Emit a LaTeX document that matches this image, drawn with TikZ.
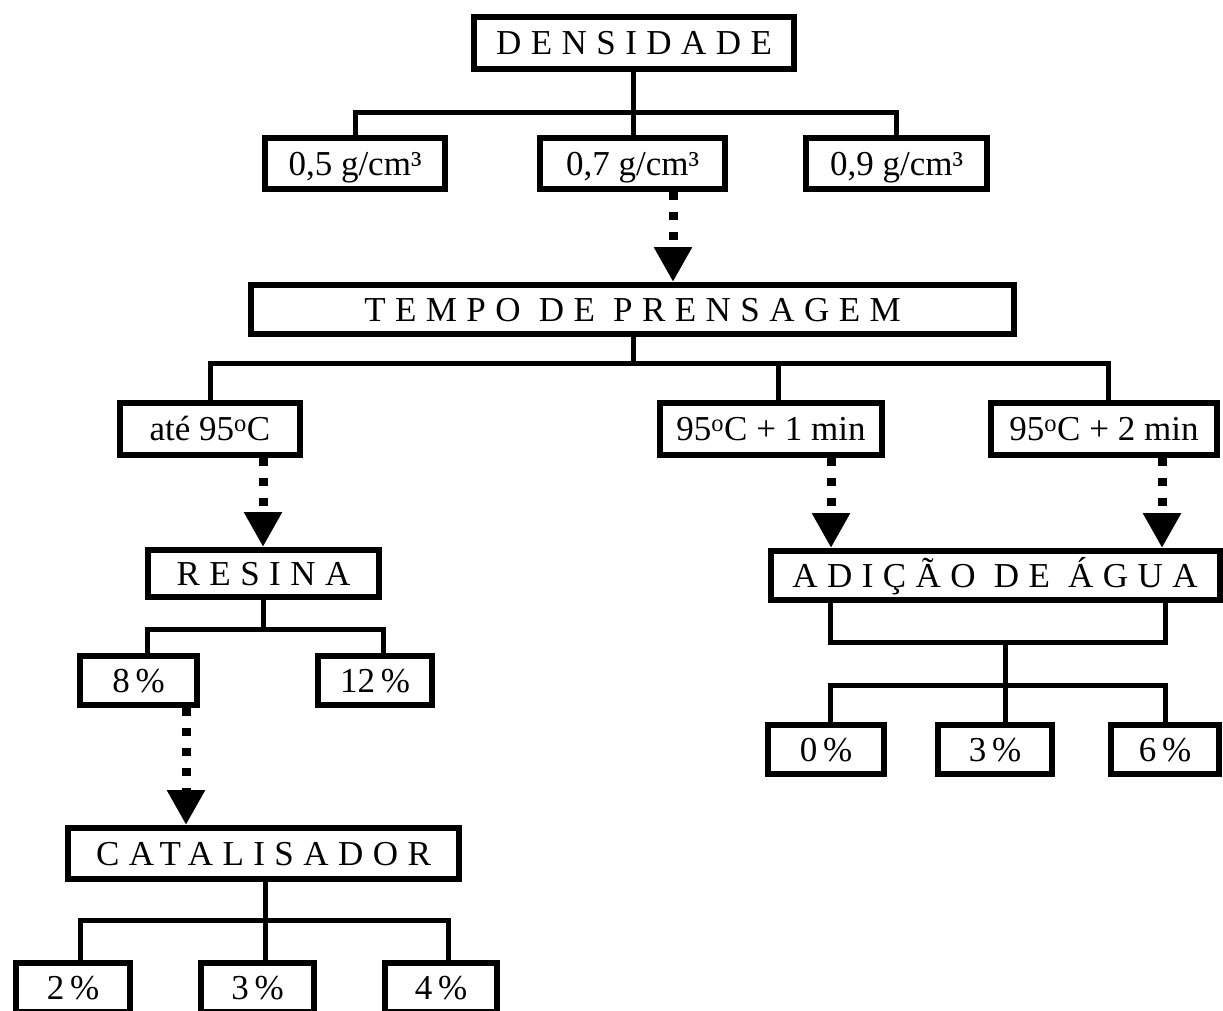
\documentclass[tikz,border=0pt]{standalone}
\usepackage{fontspec}
\setmainfont{Liberation Serif}
\newfontfamily\spaced[LetterSpace=27]{Liberation Serif}
\usetikzlibrary{arrows.meta}
\begin{document}
\begin{tikzpicture}[x=1pt,y=-1pt,
  box/.style={draw,line width=6pt,fill=white,inner sep=0pt,rectangle,
    text height=23.5pt,text depth=0pt,font=\fontsize{35}{40}\selectfont},
  spbox/.style={box,font=\fontsize{35}{40}\selectfont\spaced},
  conn/.style={line width=5pt},
  darr/.style={line width=9pt,dash pattern=on 8pt off 12pt,
    -{Triangle[width=36pt,length=35pt]}}]
\useasboundingbox (0,0) rectangle (1223,1010);
\clip (0,0) rectangle (1223,1010);

% nodes
\node[spbox,minimum width=320pt,minimum height=52pt] (dens) at (634,43) {DENSIDADE};
\node[box,minimum width=180pt,minimum height=51pt] (d05) at (355,163.5) {0,5 g/cm³};
\node[box,minimum width=185pt,minimum height=51pt] (d07) at (632.5,163.5) {0,7 g/cm³};
\node[box,minimum width=181pt,minimum height=51pt] (d09) at (896.5,163.5) {0,9 g/cm³};
\node[spbox,minimum width=763pt,minimum height=49pt] (tempo) at (632.5,309.5) {TEMPO DE PRENSAGEM};
\node[box,minimum width=180pt,minimum height=52pt] (ate) at (210,429) {até 95\textsuperscript{o}C};
\node[box,minimum width=222pt,minimum height=52pt] (m1) at (771,429) {95\textsuperscript{o}C + 1 min};
\node[box,minimum width=226pt,minimum height=52pt] (m2) at (1104,429) {95\textsuperscript{o}C + 2 min};
\node[spbox,minimum width=231pt,minimum height=47pt] (resina) at (263.5,573.5) {RESINA};
\node[spbox,minimum width=449pt,minimum height=49pt] (adic) at (995,575.5) {ADIÇÃO DE ÁGUA};
\node[box,minimum width=117pt,minimum height=49pt] (p8) at (138.5,680.5) {8\,\%};
\node[box,minimum width=114pt,minimum height=49pt] (p12) at (375,680.5) {12\,\%};
\node[spbox,minimum width=391pt,minimum height=51pt] (cat) at (263.5,853.5) {CATALISADOR};
\node[box,minimum width=114pt,minimum height=49pt] (c2) at (73,987.5) {2\,\%};
\node[box,minimum width=113pt,minimum height=49pt] (c3) at (257.5,987.5) {3\,\%};
\node[box,minimum width=112pt,minimum height=49pt] (c4) at (441,987.5) {4\,\%};
\node[box,minimum width=116pt,minimum height=49pt] (w0) at (826,749.5) {0\,\%};
\node[box,minimum width=114pt,minimum height=49pt] (w3) at (995,749.5) {3\,\%};
\node[box,minimum width=108pt,minimum height=49pt] (w6) at (1165,749.5) {6\,\%};

% junction coordinates
\coordinate (b1) at (633,112);
\coordinate (b2) at (633,363);
\coordinate (b3) at (263,629);
\coordinate (aL) at (830,642);
\coordinate (aR) at (1165,642);
\coordinate (b4) at (1005,642);
\coordinate (b5) at (1005,685);
\coordinate (b6) at (265,920);

% solid tree connectors
\draw[conn] (dens.south -| b1) -- (b1);
\draw[conn] (d05.north) |- (b1) -| (d09.north);
\draw[conn] (d07.north -| b1) -- (b1);

\draw[conn] (tempo.south -| b2) -- (b2);
\draw[conn] (ate.north) |- (b2) -| ([xshift=4pt]m2.north);
\draw[conn] ([xshift=7pt]m1.north) -- ([xshift=7pt]m1.north |- b2);

\draw[conn] (resina.south -| b3) -- (b3);
\draw[conn] ([xshift=8.5pt]p8.north) |- (b3) -| ([xshift=8pt]p12.north);

\draw[conn] (adic.south -| aL) -- (aL) -- (aR) -- (adic.south -| aR);
\draw[conn] (b4) -- (b5);
\draw[conn] ([xshift=4pt]w0.north) |- (b5) -| (w6.north);
\draw[conn] ([xshift=10pt]w3.north) -- ([xshift=10pt]w3.north |- b5);

\draw[conn] (cat.south -| b6) -- (b6);
\draw[conn] ([xshift=7pt]c2.north) |- (b6) -| ([xshift=7pt]c4.north);
\draw[conn] ([xshift=7.5pt]c3.north) -- ([xshift=7.5pt]c3.north |- b6);

% dashed arrows
\draw[darr] ([xshift=40.5pt]d07.south) -- ([xshift=40.5pt]d07.south |- tempo.north);
\draw[darr] ([xshift=53pt]ate.south) -- ([xshift=53pt]ate.south |- resina.north);
\draw[darr] ([xshift=60pt]m1.south) -- ([xshift=60pt]m1.south |- adic.north);
\draw[darr] ([xshift=58pt]m2.south) -- ([xshift=58pt]m2.south |- adic.north);
\draw[darr] ([xshift=47.5pt]p8.south) -- ([xshift=47.5pt]p8.south |- cat.north);
\end{tikzpicture}
\end{document}
